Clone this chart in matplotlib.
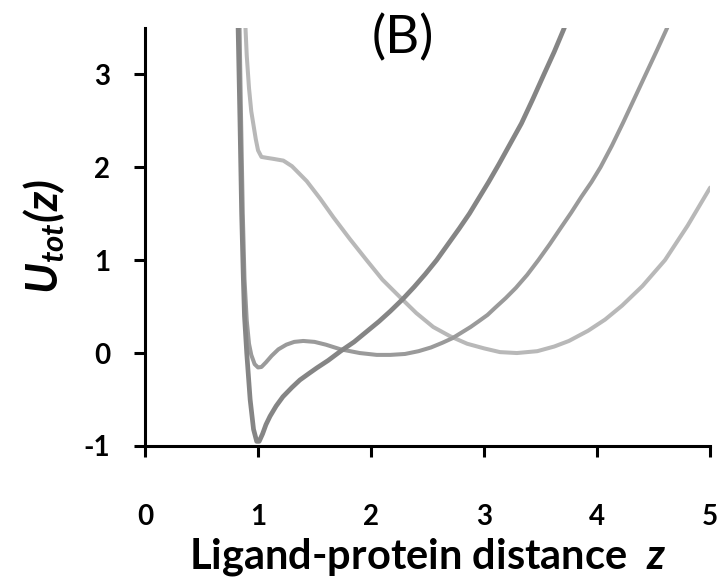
import matplotlib
matplotlib.use("Agg")
import matplotlib.pyplot as plt

# curve data (z, U_tot)
z1 = [0.822, 0.84, 0.855, 0.87, 0.88, 0.90, 0.93, 0.96, 0.988, 1.01, 1.04, 1.07, 1.106, 1.16,
      1.22, 1.30, 1.37, 1.45, 1.52, 1.62, 1.73, 1.85, 1.96, 2.07, 2.17, 2.28, 2.38, 2.48,
      2.58, 2.68, 2.78, 2.87, 2.95, 3.04, 3.13, 3.23, 3.33, 3.43, 3.53, 3.62, 3.71]
u1 = [3.6, 2.5, 1.5, 0.8, 0.4, 0.0, -0.5, -0.82, -0.95, -0.95, -0.87, -0.77, -0.68, -0.57,
      -0.47, -0.37, -0.29, -0.22, -0.16, -0.08, 0.02, 0.12, 0.23, 0.34, 0.45, 0.58, 0.71, 0.85,
      1.0, 1.17, 1.34, 1.50, 1.66, 1.84, 2.03, 2.25, 2.47, 2.73, 3.0, 3.24, 3.5]

z2 = [0.835, 0.85, 0.865, 0.88, 0.90, 0.92, 0.94, 0.97, 1.00, 1.03, 1.07, 1.12, 1.18, 1.25,
      1.32, 1.40, 1.50, 1.60, 1.73, 1.90, 2.05, 2.17, 2.30, 2.42, 2.53, 2.63, 2.72, 2.80, 2.88,
      2.95, 3.03, 3.10, 3.19, 3.28, 3.38, 3.48, 3.58, 3.68, 3.77, 3.86, 3.95, 4.03, 4.13, 4.23,
      4.33, 4.43, 4.53, 4.62]
u2 = [3.6, 2.5, 1.5, 0.8, 0.35, 0.1, -0.02, -0.12, -0.155, -0.15, -0.10, -0.03, 0.04, 0.09,
      0.12, 0.13, 0.12, 0.09, 0.04, 0.0, -0.02, -0.02, -0.01, 0.02, 0.06, 0.11, 0.16, 0.22, 0.28,
      0.34, 0.41, 0.49, 0.59, 0.70, 0.84, 1.0, 1.17, 1.35, 1.51, 1.68, 1.84, 2.0, 2.23, 2.48,
      2.74, 3.0, 3.26, 3.5]

z3 = [0.885, 0.90, 0.92, 0.94, 0.96, 0.98, 1.00, 1.03, 1.077, 1.13, 1.224, 1.30, 1.43, 1.55,
      1.667, 1.81, 1.96, 2.10, 2.257, 2.40, 2.55, 2.70, 2.85, 3.00, 3.14, 3.29, 3.47, 3.62,
      3.75, 3.92, 4.07, 4.22, 4.40, 4.60, 4.80, 5.00]
u3 = [3.6, 3.2, 2.85, 2.6, 2.45, 2.30, 2.18, 2.11, 2.10, 2.09, 2.07, 2.01, 1.85, 1.66,
      1.46, 1.23, 1.0, 0.79, 0.60, 0.43, 0.28, 0.18, 0.10, 0.05, 0.01, 0.0, 0.02, 0.07,
      0.13, 0.24, 0.36, 0.51, 0.72, 1.0, 1.37, 1.78]

x_ticks = [0, 1, 2, 3, 4, 5]
y_ticks = [-1, 0, 1, 2, 3]

plt.rcParams["font.family"] = ["Lato", "DejaVu Sans"]
plt.rcParams["font.weight"] = "bold"
plt.rcParams["axes.unicode_minus"] = False
plt.rcParams["mathtext.fontset"] = "custom"
plt.rcParams["mathtext.bfit"] = "Lato:bold:italic"
plt.rcParams["mathtext.it"] = "Lato:bold:italic"
plt.rcParams["mathtext.bf"] = "Lato:bold"

fig = plt.figure(figsize=(7.2, 5.83), dpi=100)
ax = fig.add_axes([0.2014, 0.235, 0.785, 0.7175])

ax.plot(z3, u3, color="#b8b8b8", lw=2.9, solid_capstyle="round", solid_joinstyle="round")
ax.plot(z2, u2, color="#9a9a9a", lw=2.9, solid_capstyle="round", solid_joinstyle="round")
ax.plot(z1, u1, color="#858585", lw=3.4, solid_capstyle="round", solid_joinstyle="round")

ax.set_xlim(0, 5)
ax.set_ylim(-1, 3.5)
ax.set_xticks(x_ticks)
ax.set_yticks(y_ticks)

for s in ["top", "right"]:
    ax.spines[s].set_visible(False)
for s in ["left", "bottom"]:
    ax.spines[s].set_linewidth(2.2)
ax.tick_params(direction="out", length=8, width=2.2, labelsize=20)
ax.tick_params(axis="x", pad=34)
ax.tick_params(axis="y", pad=17)

ax.set_xlabel(r"Ligand-protein distance  $\mathbfit{z}$", fontsize=30, fontweight="bold", labelpad=4)
ax.set_ylabel(r"$\mathbfit{U_{tot}(z)}$", fontsize=32, labelpad=12)

fig.text(0.56, 0.934, "(B)", fontsize=38, fontweight="normal", ha="center", va="center")

fig.savefig("out.png", dpi=100)
